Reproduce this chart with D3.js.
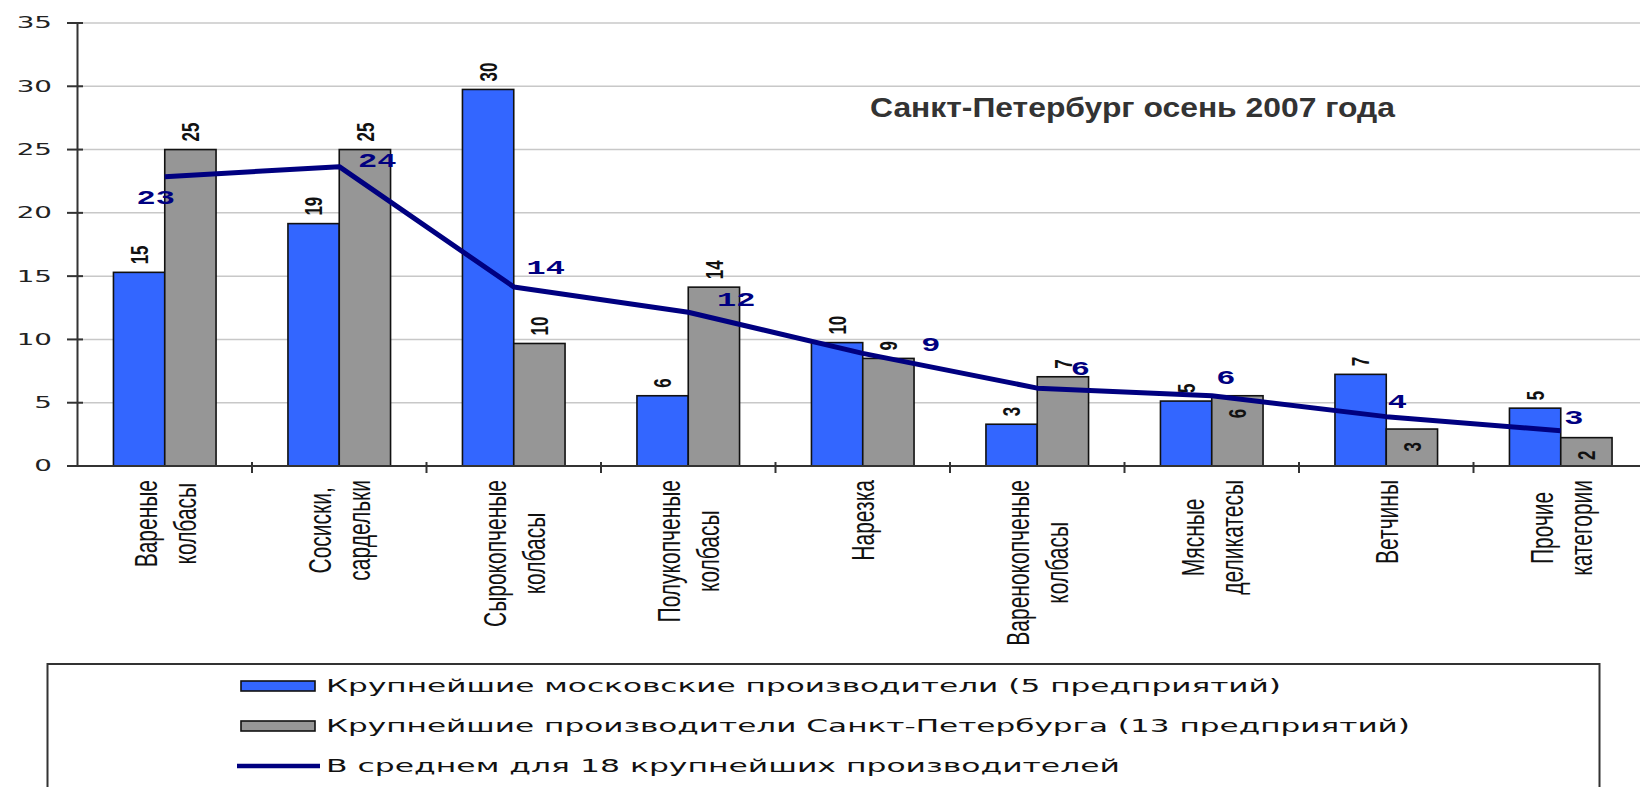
<!DOCTYPE html>
<html lang="ru">
<head>
<meta charset="utf-8">
<script src="https://cdn.jsdelivr.net/npm/d3@7"></script>
<style>
  html, body { margin: 0; padding: 0; background: #fff; }
  svg { display: block; }
</style>
</head>
<body>
<div id="chart"></div>
<script>
// ── Data ──────────────────────────────────────────────
const categories = [
  ['Вареные', 'колбасы'],
  ['Сосиски,', 'сардельки'],
  ['Сырокопченые', 'колбасы'],
  ['Полукопченые', 'колбасы'],
  ['Нарезка'],
  ['Варенокопченые', 'колбасы'],
  ['Мясные', 'деликатесы'],
  ['Ветчины'],
  ['Прочие', 'категории'],
];
const moscow   = [15.3, 19.15, 29.75, 5.55, 9.75, 3.3, 5.13, 7.24, 4.57];
const spb      = [25.0, 25.0, 9.68, 14.13, 8.5, 7.05, 5.55, 2.92, 2.24];
const average  = [22.85, 23.65, 14.15, 12.15, 8.9, 6.15, 5.55, 3.9, 2.78];
const yTicks   = [0, 5, 10, 15, 20, 25, 30, 35];
const seriesNames = [
  'Крупнейшие московские производители (5 предприятий)',
  'Крупнейшие производители Санкт-Петербурга (13 предприятий)',
  'В среднем для 18 крупнейших производителей',
];
const title = 'Санкт-Петербург осень 2007 года';

// ── Layout ────────────────────────────────────────────
const W = 1640, H = 787;
const blue = '#3366FF', gray = '#969696', navy = '#000080';
const axisCol = '#333333';
// gray labels that Excel put inside the bar
const spbInside = new Set([6, 7, 8]);
// hand-placed offsets of the average labels (px from the point)
const avgNudge = [[-9, 22], [38, -5], [32, -18], [48, -11], [68, -8], [43, -18], [14, -17], [11, -14], [13, -12]];

const svg = d3.select('#chart').append('svg')
  .attr('width', W).attr('height', H);

const idx = d3.range(categories.length);
const x0 = d3.scaleBand().domain(idx).range([77.5, 77.5 + 174.5 * idx.length]);
const x1 = d3.scaleBand().domain(['m', 's'])
  .range([x0.bandwidth() / 2 - 51.3, x0.bandwidth() / 2 + 51.3]);
const y = d3.scaleLinear().domain([0, 35]).range([466, 23]);
const cx = i => x0(i) + x0.bandwidth() / 2;

// grid
svg.append('g').selectAll('line').data(yTicks.slice(1)).enter().append('line')
  .attr('x1', 77.5).attr('x2', W)
  .attr('y1', d => y(d)).attr('y2', d => y(d))
  .attr('stroke', '#c8c8c8').attr('stroke-width', 1.5);

// title
svg.append('text')
  .attr('x', 870).attr('y', 117)
  .attr('font-family', "'Liberation Sans', Arial, sans-serif")
  .attr('font-weight', 'bold').attr('font-size', 27)
  .attr('fill', '#333')
  .attr('textLength', 525).attr('lengthAdjust', 'spacingAndGlyphs')
  .text(title);

// ── Bars ──────────────────────────────────────────────
const bars = svg.append('g');
const series = [{ key: 'm', vals: moscow, fill: blue }, { key: 's', vals: spb, fill: gray }];
series.forEach(s => {
  bars.selectAll(null).data(s.vals).enter().append('rect')
    .attr('x', (d, i) => x0(i) + x1(s.key))
    .attr('y', d => y(d))
    .attr('width', x1.bandwidth())
    .attr('height', d => y(0) - y(d))
    .attr('fill', s.fill)
    .attr('stroke', '#111').attr('stroke-width', 1.6);
});

// value labels, rotated and widened like the original
series.forEach(s => {
  bars.selectAll(null).data(s.vals).enter().append('text')
    .attr('transform', (d, i) => {
      const inside = s.key === 's' && spbInside.has(i);
      const yy = inside ? y(d) + 13 : y(d) - 8;
      return `translate(${x0(i) + x1(s.key) + x1.bandwidth() / 2},${yy}) scale(1.45,1) rotate(-90)`;
    })
    .attr('text-anchor', (d, i) => (s.key === 's' && spbInside.has(i)) ? 'end' : 'start')
    .attr('dominant-baseline', 'central')
    .attr('font-family', "'Liberation Sans', Arial, sans-serif")
    .attr('font-weight', 'bold').attr('font-size', 17)
    .attr('fill', '#111')
    .text(d => Math.round(d));
});

// ── Axes ──────────────────────────────────────────────
const ax = svg.append('g');
ax.append('line').attr('x1', 77.5).attr('x2', 77.5).attr('y1', y(35)).attr('y2', y(0))
  .attr('stroke', axisCol).attr('stroke-width', 2);
ax.append('line').attr('x1', 67).attr('x2', W).attr('y1', y(0)).attr('y2', y(0))
  .attr('stroke', axisCol).attr('stroke-width', 2);
ax.selectAll(null).data(yTicks).enter().append('line')
  .attr('x1', 67).attr('x2', 83).attr('y1', d => y(d)).attr('y2', d => y(d))
  .attr('stroke', axisCol).attr('stroke-width', 2);
ax.selectAll(null).data(yTicks).enter().append('text')
  .attr('transform', d => `translate(52,${y(d)}) scale(1.85,1)`)
  .attr('text-anchor', 'end').attr('dominant-baseline', 'central')
  .attr('font-family', "'DejaVu Sans', Verdana, sans-serif")
  .attr('font-size', 15).attr('fill', '#222')
  .text(d => d);
ax.selectAll(null).data(idx.slice(1).concat([idx.length])).enter().append('line')
  .attr('x1', i => x0(0) + i * x0.step()).attr('x2', i => x0(0) + i * x0.step())
  .attr('y1', y(0) - 4).attr('y2', y(0) + 7)
  .attr('stroke', axisCol).attr('stroke-width', 2);

// category labels: rotated, block top-aligned, lines centred in block
const sx = 1.5, labelTop = 480;
categories.forEach((lines, i) => {
  const g = svg.append('g').attr('transform', `translate(${cx(i)},0) scale(${sx},1) rotate(-90)`);
  const n = lines.length;
  const tx = lines.map((t, k) => g.append('text')
    .attr('y', (11.5 + (k - (n - 1) / 2) * 39) / sx)
    .attr('text-anchor', 'middle')
    .attr('font-family', "'Liberation Sans', Arial, sans-serif")
    .attr('font-size', 21).attr('fill', '#111')
    .text(t));
  const maxLen = d3.max(tx, t => t.node().getComputedTextLength());
  tx.forEach(t => t.attr('x', -(labelTop + maxLen / 2)));
});

// ── Average line ──────────────────────────────────────
const line = d3.line().x((d, i) => cx(i)).y(d => y(d));
svg.append('path').datum(average)
  .attr('d', line)
  .attr('fill', 'none').attr('stroke', navy).attr('stroke-width', 5)
  .attr('stroke-linejoin', 'round');
svg.append('g').selectAll('text').data(average).enter().append('text')
  .attr('transform', (d, i) => `translate(${cx(i) + avgNudge[i][0]},${y(d) + avgNudge[i][1]}) scale(1.6,1)`)
  .attr('text-anchor', 'middle').attr('dominant-baseline', 'central')
  .attr('font-family', "'Liberation Mono', 'Courier New', monospace")
  .attr('font-weight', 'bold').attr('font-size', 20)
  .attr('fill', navy)
  .text(d => Math.round(d));

// ── Legend ────────────────────────────────────────────
const lg = svg.append('g');
lg.append('rect').attr('x', 47.5).attr('y', 664).attr('width', 1552).attr('height', 160)
  .attr('fill', '#fff').attr('stroke', '#333').attr('stroke-width', 2);
const rowY = [686, 726, 766];
const textLen = [955, 1084, 794];
[blue, gray].forEach((c, k) => {
  lg.append('rect').attr('x', 241).attr('y', rowY[k] - 5).attr('width', 74).attr('height', 10)
    .attr('fill', c).attr('stroke', '#111').attr('stroke-width', 1.6);
});
lg.append('line').attr('x1', 237).attr('x2', 320).attr('y1', rowY[2]).attr('y2', rowY[2])
  .attr('stroke', navy).attr('stroke-width', 4.5);
seriesNames.forEach((t, k) => {
  lg.append('text')
    .attr('x', 326).attr('y', rowY[k])
    .attr('dominant-baseline', 'central')
    .attr('font-family', "'DejaVu Sans', Verdana, sans-serif")
    .attr('font-size', 17).attr('fill', '#111')
    .attr('textLength', textLen[k]).attr('lengthAdjust', 'spacingAndGlyphs')
    .text(t);
});
</script>
</body>
</html>
